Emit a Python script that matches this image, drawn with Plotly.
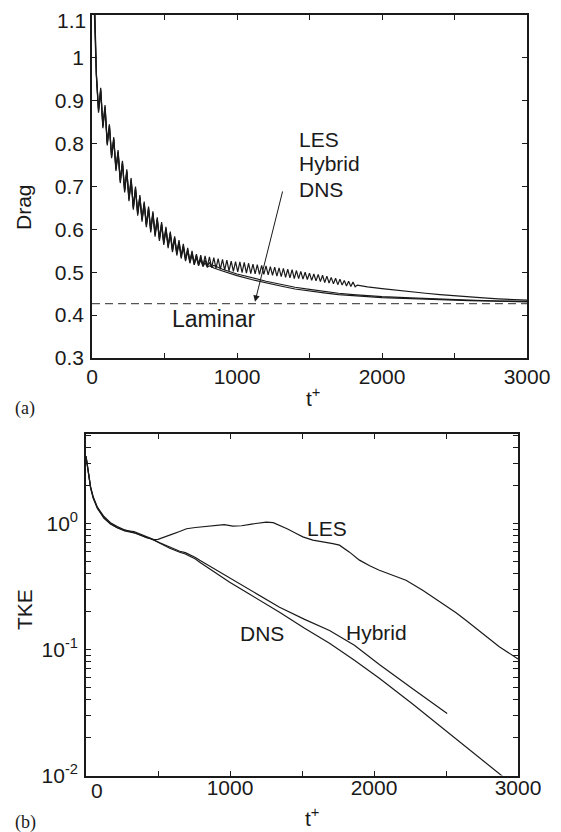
import numpy as np
import plotly.graph_objects as go

# ---------------- data : panel (a) drag ----------------
osc_dt = 15  # sampling step (t+) of the oscillating parts

les_drag_osc = [1.50, 1.15, 0.965, 0.877, 0.930, 0.840, 0.890, 0.800, 0.845, 0.770,
                0.815, 0.740, 0.785, 0.712, 0.760, 0.690, 0.740, 0.670, 0.720, 0.650,
                0.700, 0.636, 0.680, 0.622, 0.665, 0.609, 0.653, 0.597, 0.642, 0.587,
                0.628, 0.577, 0.617, 0.568, 0.606, 0.560, 0.595, 0.551, 0.584, 0.543,
                0.575, 0.536, 0.566, 0.529, 0.557, 0.523, 0.550, 0.518, 0.542, 0.517,
                0.540, 0.515, 0.538, 0.513, 0.536, 0.511, 0.534, 0.509, 0.532, 0.507,
                0.530, 0.505, 0.528, 0.503, 0.526, 0.502, 0.525, 0.501, 0.524, 0.499,
                0.523, 0.498, 0.521, 0.497, 0.519, 0.496, 0.518, 0.495, 0.516, 0.495,
                0.515, 0.494, 0.513, 0.493, 0.512, 0.491, 0.510, 0.490, 0.509, 0.488,
                0.507, 0.487, 0.506, 0.485, 0.504, 0.485, 0.502, 0.484, 0.500, 0.483,
                0.498, 0.481, 0.496, 0.480, 0.495, 0.478, 0.493, 0.476, 0.491, 0.475,
                0.488, 0.473, 0.486, 0.471, 0.484, 0.470, 0.481, 0.468, 0.479, 0.467,
                0.477, 0.466, 0.470]
les_drag_tail_t = [1860, 1900, 2000, 2100, 2200, 2300, 2400, 2500, 2600, 2700, 2800, 2900, 3000]
les_drag_tail = [0.468, 0.466, 0.462, 0.458, 0.454, 0.451, 0.448, 0.445, 0.443, 0.440, 0.438, 0.436, 0.435]

dns_drag_osc = [1.48, 1.12, 0.958, 0.872, 0.922, 0.836, 0.882, 0.796, 0.838, 0.766,
                0.808, 0.736, 0.778, 0.708, 0.753, 0.686, 0.733, 0.666, 0.713, 0.646,
                0.693, 0.632, 0.673, 0.618, 0.658, 0.605, 0.646, 0.593, 0.635, 0.583,
                0.621, 0.573, 0.610, 0.564, 0.599, 0.556, 0.588, 0.547, 0.577, 0.539,
                0.568, 0.532, 0.558, 0.526, 0.549, 0.521, 0.541, 0.517, 0.535, 0.515,
                0.529, 0.513, 0.522, 0.512, 0.515]
dns_drag_tail_t = [840, 900, 1000, 1100, 1200, 1300, 1400, 1500, 1600, 1700, 1800, 1900,
                   2000, 2200, 2400, 2600, 2800, 3000]
dns_drag_tail = [0.510, 0.503, 0.492, 0.483, 0.475, 0.468, 0.461, 0.456, 0.452, 0.448,
                 0.445, 0.443, 0.441, 0.438, 0.436, 0.434, 0.432, 0.431]

hyb_drag_osc = [1.52, 1.18, 0.962, 0.880, 0.926, 0.843, 0.886, 0.803, 0.842, 0.773,
                0.811, 0.743, 0.781, 0.715, 0.756, 0.693, 0.736, 0.673, 0.716, 0.653,
                0.696, 0.639, 0.676, 0.625, 0.661, 0.612, 0.649, 0.600, 0.638, 0.590,
                0.624, 0.580, 0.613, 0.571, 0.602, 0.563, 0.591, 0.554, 0.580, 0.546,
                0.571, 0.539, 0.562, 0.532, 0.553, 0.527, 0.546, 0.522, 0.540, 0.519,
                0.534, 0.517, 0.528, 0.515, 0.522, 0.513, 0.516]
hyb_drag_tail_t = [870, 900, 1000, 1100, 1200, 1300, 1400, 1500, 1600, 1700, 1800, 1900,
                   2000, 2200, 2400, 2600, 2800, 3000]
hyb_drag_tail = [0.511, 0.507, 0.496, 0.487, 0.479, 0.472, 0.465, 0.460, 0.455, 0.451,
                 0.448, 0.445, 0.443, 0.440, 0.437, 0.435, 0.433, 0.432]

laminar_drag = 0.427

# ---------------- data : panel (b) TKE ----------------
tke_les_t = [0, 10, 20, 32, 50, 79, 125, 170, 217, 270, 333, 380, 420, 448, 471, 500,
             540, 600, 650, 698, 760, 830, 905, 960, 1020, 1080, 1150, 1200, 1252, 1300,
             1344, 1400, 1460, 1506, 1575, 1640, 1714, 1760, 1830, 1899, 1970, 2037,
             2130, 2222, 2338, 2420, 2499, 2570, 2638, 2750, 2870, 3000]
tke_les = [3.40, 2.80, 2.35, 1.94, 1.62, 1.33, 1.10, 0.99, 0.92, 0.875, 0.86, 0.815,
           0.775, 0.752, 0.742, 0.745, 0.77, 0.82, 0.86, 0.905, 0.925, 0.945, 0.965,
           0.975, 0.95, 0.955, 0.985, 1.005, 1.02, 1.01, 0.965, 0.90, 0.83, 0.78, 0.735,
           0.715, 0.69, 0.67, 0.59, 0.51, 0.46, 0.424, 0.385, 0.353, 0.294, 0.255, 0.22,
           0.195, 0.17, 0.135, 0.105, 0.084]

tke_dns_t = [0, 10, 20, 32, 50, 79, 125, 170, 217, 270, 333, 380, 420, 448, 480, 513,
             582, 651, 690, 721, 760, 790, 894, 998, 1137, 1344, 1518, 1691, 1864, 2037,
             2266, 2495, 2696, 2883, 2910]
tke_dns = [3.40, 2.78, 2.33, 1.92, 1.60, 1.34, 1.13, 1.01, 0.94, 0.885, 0.845, 0.80,
           0.77, 0.756, 0.725, 0.694, 0.633, 0.589, 0.57, 0.547, 0.52, 0.49, 0.409, 0.34,
           0.273, 0.197, 0.147, 0.112, 0.082, 0.059, 0.037, 0.0227, 0.0149, 0.0100, 0.0095]

tke_hyb_t = [0, 10, 20, 32, 50, 79, 125, 170, 217, 270, 333, 380, 420, 448, 480, 513,
             582, 651, 690, 721, 760, 790, 894, 998, 1137, 1344, 1518, 1691, 1864, 2037,
             2266, 2508]
tke_hyb = [3.38, 2.76, 2.30, 1.90, 1.58, 1.31, 1.10, 0.985, 0.92, 0.87, 0.84, 0.805,
           0.773, 0.758, 0.73, 0.70, 0.645, 0.60, 0.585, 0.565, 0.535, 0.508, 0.432,
           0.366, 0.294, 0.216, 0.173, 0.141, 0.108, 0.076, 0.049, 0.031]

# tick labels
drag_ticks = [0.3, 0.4, 0.5, 0.6, 0.7, 0.8, 0.9, 1.0, 1.1]
drag_ticktext = ["0.3", "0.4", "0.5", "0.6", "0.7", "0.8", "0.9", "1", ""]
drag_top_label = "1.1"
t_ticks = [0, 500, 1000, 1500, 2000, 2500, 3000]
t_ticktext_a = ["0", "", "1000", "", "2000", "", "3000"]
t_ticktext_b = ["", "", "1000", "", "2000", "", "3000"]
tke_decades = [0.01, 0.1, 1.0]
tke_decade_text = ["10<sup>-2</sup>", "10<sup>-1</sup>", "10<sup>0</sup>"]

# ---------------- build series ----------------
def series(osc, tail_t, tail):
    t = list(np.arange(len(osc)) * osc_dt) + list(tail_t)
    return t, list(osc) + list(tail)

les_t, les_v = series(les_drag_osc, les_drag_tail_t, les_drag_tail)
dns_t, dns_v = series(dns_drag_osc, dns_drag_tail_t, dns_drag_tail)
hyb_t, hyb_v = series(hyb_drag_osc, hyb_drag_tail_t, hyb_drag_tail)

# page is 561x832; the html body has an 8px margin, so the figure starts at (8, 8)
PAGE_W, PAGE_H = 561, 832
OFF = 8
W, H = PAGE_W - OFF, PAGE_H - OFF
FONT = "Liberation Sans, Arial, sans-serif"
SERIF = "Liberation Serif, Times New Roman, serif"
INK = "#1a1a1a"
LW = 1.2

def fx(p):  # page pixel -> paper fraction
    return (p - OFF) / W

def fy(p):
    return 1 - (p - OFF) / H

fig = go.Figure()
line = dict(color=INK, width=LW)
fig.add_trace(go.Scatter(x=dns_t, y=dns_v, mode="lines", line=line, xaxis="x", yaxis="y"))
fig.add_trace(go.Scatter(x=hyb_t, y=hyb_v, mode="lines", line=line, xaxis="x", yaxis="y"))
fig.add_trace(go.Scatter(x=les_t, y=les_v, mode="lines", line=line, xaxis="x", yaxis="y"))
fig.add_trace(go.Scatter(x=[0, 3000], y=[laminar_drag, laminar_drag], mode="lines",
                         line=dict(color="#555555", width=1.2, dash="8px,5px"),
                         xaxis="x", yaxis="y"))

fig.add_trace(go.Scatter(x=tke_les_t, y=tke_les, mode="lines", line=line, xaxis="x2", yaxis="y2"))
fig.add_trace(go.Scatter(x=tke_hyb_t, y=tke_hyb, mode="lines", line=line, xaxis="x2", yaxis="y2"))
fig.add_trace(go.Scatter(x=tke_dns_t, y=tke_dns, mode="lines", line=line, xaxis="x2", yaxis="y2"))

tickfont = dict(family=FONT, size=21, color=INK)
common = dict(showline=True, linecolor=INK, linewidth=1.6, mirror="ticks",
              ticks="inside", ticklen=5, tickwidth=1, tickcolor=INK, automargin=False,
              ticklabeloverflow="allow",
              showgrid=False, zeroline=False, tickfont=tickfont, fixedrange=True)

# log minor tick positions
tke_tickvals = []
tke_ticktext = []
for dec, txt in zip(tke_decades, tke_decade_text):
    for m in range(1, 10):
        v = m * dec
        if v <= 5.0 + 1e-9:
            tke_tickvals.append(v)
            tke_ticktext.append(txt if m == 1 else "")

fig.update_layout(
    width=W, height=H,
    margin=dict(l=0, r=0, t=0, b=0, pad=0, autoexpand=False),
    paper_bgcolor="white", plot_bgcolor="white",
    showlegend=False,
    xaxis=dict(domain=[fx(92), fx(527)], anchor="y", range=[0, 3000],
               tickmode="array", tickvals=t_ticks, ticktext=t_ticktext_a,
               ticklabelstandoff=-1, **common),
    yaxis=dict(domain=[fy(358), fy(15)], anchor="x", range=[0.3, 1.1],
               tickmode="array", tickvals=drag_ticks, ticktext=drag_ticktext,
               ticklabelstandoff=2, **common),
    xaxis2=dict(domain=[fx(86), fx(518)], anchor="y2", range=[0, 3000],
                tickmode="array", tickvals=t_ticks, ticktext=t_ticktext_b,
                ticklabelstandoff=-8, **common),
    yaxis2=dict(domain=[fy(775.5), fy(434)], anchor="x2", type="log",
                range=[-2, np.log10(5.1)],
                tickmode="array", tickvals=tke_tickvals, ticktext=tke_ticktext,
                ticklabelstandoff=2, **common),
)

ann = []
lab = dict(family=FONT, size=21, color=INK)

def note(x, y, text, font, xref="paper", yref="paper", xanchor="center",
         yanchor="middle", **kw):
    ann.append(dict(x=x, y=y, xref=xref, yref=yref, text=text, showarrow=False,
                    xanchor=xanchor, yanchor=yanchor, font=font, **kw))

# panel (a) labels
for txt, yv in [("LES", 0.810), ("Hybrid", 0.754), ("DNS", 0.692)]:
    note(1414, yv, txt, lab, "x", "y", "left")
note(838, 0.392, "Laminar", dict(family=FONT, size=23, color=INK), "x", "y")
ann.append(dict(x=1124, y=0.431, xref="x", yref="y", ax=1317, ay=0.692,
                axref="x", ayref="y", text="", showarrow=True, arrowhead=2,
                arrowsize=1.3, arrowwidth=1, arrowcolor=INK))
# top y tick label kept inside the page
note(fx(71), 1.0, drag_top_label, tickfont, yanchor="top", borderpad=0)
# panel (b) labels
note(1518, np.log10(0.912), "LES", lab, "x2", "y2", "left")
note(1795, np.log10(0.136), "Hybrid", lab, "x2", "y2", "left")
note(1053, np.log10(0.134), "DNS", lab, "x2", "y2", "left")
# offset "0" tick label of panel (b)
note(fx(97), fy(790), "0", tickfont)
# axis titles
note(fx(24), fy(207), "Drag", lab, textangle=-90)
note(fx(24), fy(610), "TKE", lab, textangle=-90)
note(fx(313), fy(397), "t<sup>+</sup>", lab)
note(fx(312), fy(817), "t<sup>+</sup>", lab)
# panel tags
note(fx(25), fy(408), "(a)", dict(family=SERIF, size=18, color=INK))
note(fx(25), fy(822), "(b)", dict(family=SERIF, size=18, color=INK))

fig.update_layout(annotations=ann)
fig.write_html("out.html")
